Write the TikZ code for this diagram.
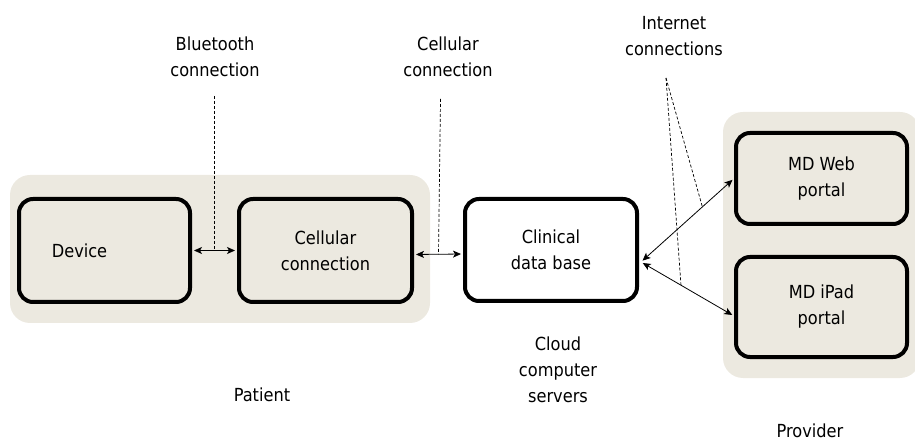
\documentclass[tikz,border=0pt]{standalone}
\usepackage{fontspec}
\setmainfont{DejaVu Sans Condensed}
\usetikzlibrary{arrows.meta}
\definecolor{panel}{RGB}{236,233,224}
\tikzset{
  unit/.style={draw,line width=4pt,rounded corners=14pt,fill=panel,minimum width=171pt,minimum height=103pt,align=center,inner sep=0pt},
  link/.style={{Stealth[length=8pt,width=7pt,inset=2pt]}-{Stealth[length=8pt,width=7pt,inset=2pt]},line width=0.8pt,shorten <=2pt,shorten >=2pt},
  pointer/.style={dash pattern=on 3pt off 2pt,line width=0.7pt},
  lbl/.style={align=center,inner sep=0pt}
}

\begin{document}
\begin{tikzpicture}[x=1pt,y=-1pt,font=\fontsize{18}{26}\selectfont]
\useasboundingbox (0,0) rectangle (915,443);
\clip (0,0) rectangle (915,443);
%\fill[red] (0,0) rectangle (915,443);
\fill[panel,rounded corners=20pt] (10,175) rectangle (430,323);
\fill[panel,rounded corners=20pt] (723,112) rectangle (920,378);

\node[unit,label={[xshift=-25pt]center:Device}] (dev) at (104.5,250.5) {};
\node[unit,minimum width=173pt] (cell) at (325.5,250.5) {Cellular\\connection};
\node[unit,fill=white,minimum width=172pt,minimum height=102pt] (cdb) at (551,250) {Clinical\\data base};
\node[unit,minimum height=91pt] (web) at (821.5,178.5) {MD Web\\portal};
\node[unit,minimum height=100pt] (ipad) at (821.5,307) {MD iPad\\portal};

\node[lbl] (bt) at (215,57) {Bluetooth\\connection};
\node[lbl] (cc) at (448,56.5) {Cellular\\connection};
\node[lbl] (inet) at (674,36) {Internet\\connections};
\node[lbl] (cloud) at (558,370) {Cloud\\computer\\servers};
\node[lbl] (pat) at (262,395) {Patient};
\node[lbl] (prov) at (810,431) {Provider};

\coordinate (hub) at (641,262);
\coordinate (bttop) at (214.5,96);
\coordinate (cctop) at (440.5,99);
\coordinate (inettop) at (666,78);

\draw[link] (dev.east) -- coordinate (btm) (cell.west);
\draw[link] ([yshift=-4pt]cell.east) -- coordinate (ccm) ([yshift=-4pt]cdb.west);
\draw[link] (hub) -- coordinate[pos=.66] (wm) (web.west);
\draw[link] (hub) -- coordinate[pos=.43] (im) ([yshift=-9pt]ipad.west);

\draw[pointer] (bttop) -- (btm);
\draw[pointer] (cctop) -- (ccm);
\draw[pointer] (inettop) -- (wm);
\draw[pointer] (inettop) -- (im);
\end{tikzpicture}
\end{document}
